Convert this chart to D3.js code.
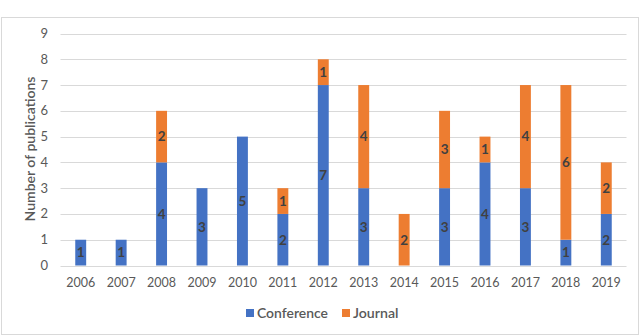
<!DOCTYPE html>
<html><head><meta charset="utf-8">
<script src="https://cdn.jsdelivr.net/npm/d3@7"></script>
<style>body{margin:0;background:#fff}svg{display:block}</style>
</head><body>
<svg id="c" width="640" height="336"></svg>
<script>
const years = ["2006","2007","2008","2009","2010","2011","2012","2013","2014","2015","2016","2017","2018","2019"];
const conference = [1,1,4,3,5,2,7,3,0,3,4,3,1,2];
const journal = [0,0,2,0,0,1,1,4,2,3,1,4,6,2];
const yTicks = [0,1,2,3,4,5,6,7,8,9];
const seriesNames = ["Conference","Journal"];
const colors = ["#4472C4","#ED7D31"];

const svg = d3.select("#c");
const font = "Lato, 'Open Sans', sans-serif";
svg.append("rect").attr("x",1.5).attr("y",17.5).attr("width",637).attr("height",317)
  .attr("fill","#fff").attr("stroke","#d9d9d9");

const x = d3.scaleBand().domain(years).range([60.5,626.5]).paddingInner(0.73).paddingOuter(0.365);
const y = d3.scaleLinear().domain([0,9]).range([265.5,33.5]);

// gridlines
svg.append("g").selectAll("line").data(yTicks).join("line")
  .attr("x1",60.5).attr("x2",626.5)
  .attr("y1",d=>Math.round(y(d))+0.5).attr("y2",d=>Math.round(y(d))+0.5)
  .attr("stroke","#d9d9d9").attr("stroke-width",1);

// y labels
svg.append("g").selectAll("text").data(yTicks).join("text")
  .attr("x",48).attr("y",d=>y(d)).attr("dy","0.35em").attr("text-anchor","end")
  .attr("font-family",font).attr("font-size",13).attr("fill","#595959").text(d=>d);

// x labels
svg.append("g").selectAll("text").data(years).join("text")
  .attr("x",d=>x(d)+x.bandwidth()/2).attr("y",283).attr("dy","0.35em").attr("text-anchor","middle")
  .attr("font-family",font).attr("font-size",12.5).attr("fill","#595959").text(d=>d);

// y title
svg.append("text").attr("transform","translate(35,149) rotate(-90)").attr("text-anchor","middle")
  .attr("font-family",font).attr("font-size",13.5).attr("font-weight",600).attr("fill","#595959")
  .attr("textLength",145).attr("lengthAdjust","spacingAndGlyphs").text("Number of publications");

const rows = years.map((yr,i)=>({year:yr, Conference:conference[i], Journal:journal[i]}));
const stack = d3.stack().keys(seriesNames)(rows);

const g = svg.append("g");
stack.forEach((s,si)=>{
  g.append("g").selectAll("rect").data(s).join("rect")
    .attr("x",d=>x(d.data.year)).attr("width",x.bandwidth())
    .attr("y",d=>y(d[1])).attr("height",d=>y(d[0])-y(d[1]))
    .attr("fill",colors[si]);
});
stack.forEach((s,si)=>{
  g.append("g").selectAll("text").data(s.filter(d=>d[1]-d[0]>0)).join("text")
    .attr("x",d=>x(d.data.year)+x.bandwidth()/2).attr("y",d=>(y(d[0])+y(d[1]))/2)
    .attr("dy","0.36em").attr("text-anchor","middle")
    .attr("font-family",font).attr("font-size",13.5).attr("font-weight","bold").attr("fill","#404040")
    .text(d=>d[1]-d[0]);
});

// legend
const leg = svg.append("g");
const legX = [246, 342];
const legW = [71, 45.5];
seriesNames.forEach((n,i)=>{
  leg.append("rect").attr("x",legX[i]).attr("y",309).attr("width",8).attr("height",8).attr("fill",colors[i]);
  leg.append("text").attr("x",legX[i]+11).attr("y",313).attr("dy","0.36em")
    .attr("font-family",font).attr("font-size",14).attr("font-weight",600).attr("fill","#595959")
    .attr("textLength",legW[i]).attr("lengthAdjust","spacingAndGlyphs").text(n);
});
</script>
</body></html>
